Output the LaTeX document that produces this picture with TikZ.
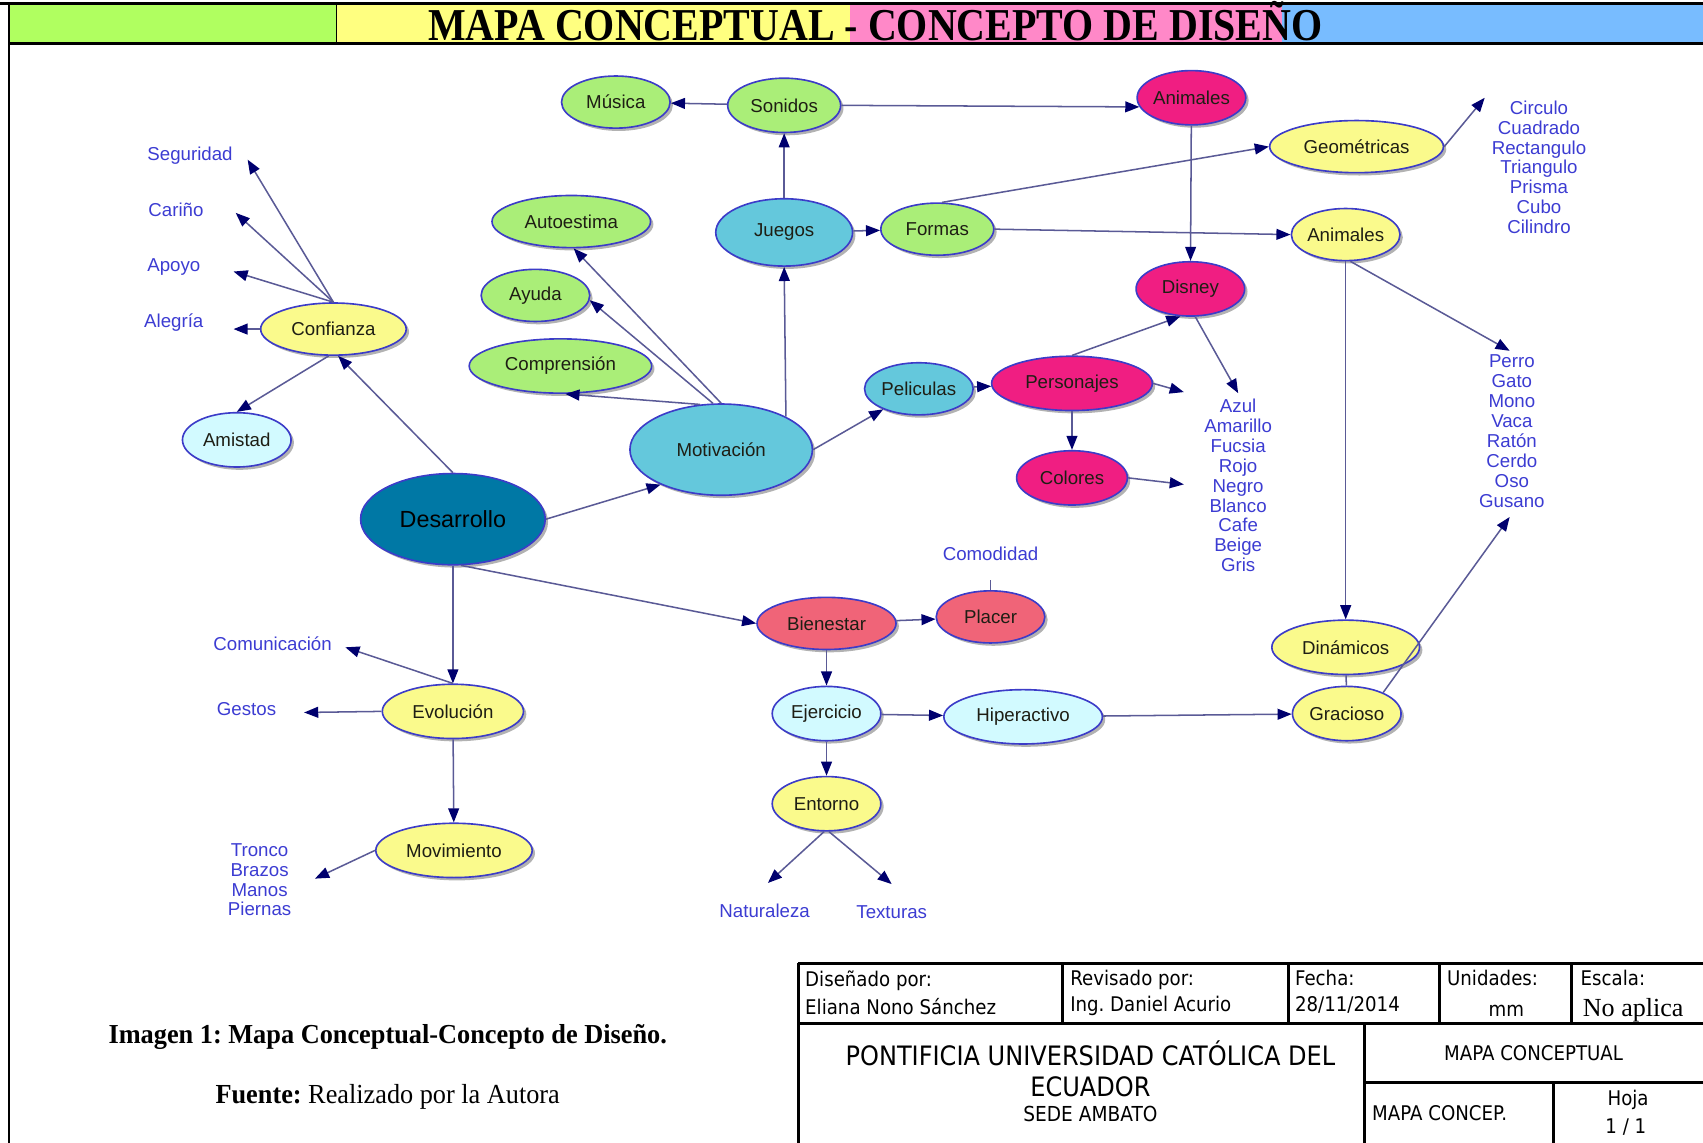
\documentclass[tikz,border=0pt]{standalone}
\usepackage{fontspec}
\usepackage{graphicx}
\usetikzlibrary{shapes.geometric,arrows.meta,shadows}
\newfontfamily\arialf{Liberation Sans}
\newfontfamily\timesf{Liberation Serif}
\newfontfamily\tabf[FakeStretch=0.9]{DejaVu Sans}
\frenchspacing
\definecolor{cgreen}{RGB}{170,238,120}
\definecolor{cyellow}{RGB}{250,250,140}
\definecolor{cblue}{RGB}{100,200,220}
\definecolor{cdark}{RGB}{0,120,165}
\definecolor{cpink}{RGB}{240,30,130}
\definecolor{csalmon}{RGB}{240,100,120}
\definecolor{ccyan}{RGB}{210,250,255}
\definecolor{bord}{RGB}{60,60,200}
\definecolor{ntext}{RGB}{30,30,20}
\definecolor{labc}{RGB}{60,60,210}
\definecolor{edgec}{RGB}{90,90,150}
\definecolor{arrc}{RGB}{0,0,110}
\definecolor{hgreen}{RGB}{176,255,96}
\definecolor{hyellow}{RGB}{255,255,128}
\definecolor{hpink}{RGB}{255,136,200}
\definecolor{hblue}{RGB}{120,188,255}
\begin{document}
\begin{tikzpicture}[x=0.5pt,y=-0.5pt,
  cn/.style={ellipse, draw=bord, line width=0.75pt, inner sep=0pt,
    font=\arialf\fontsize{8.6pt}{10pt}\selectfont, text=ntext,
    drop shadow={shadow xshift=1.3pt, shadow yshift=-1.3pt, fill=black, opacity=0.3}},
  lab/.style={text=labc, font=\arialf\fontsize{8.6pt}{9.15pt}\selectfont, inner sep=0pt, align=center},
  ed/.style={draw=edgec, line width=0.7pt},
  arr/.style={ed, -{Triangle[length=6.5pt,width=5pt,color=arrc]}},
  tl/.style={line width=1.3pt, black},
  tt/.style={font=\tabf\fontsize{9.3pt}{11pt}\selectfont, inner sep=0pt}
]
\useasboundingbox (0,0) rectangle (1568,1052);
% header
\fill[hgreen] (8,5) rectangle (310,39);
\fill[hyellow] (310,5) rectangle (783,39);
\fill[hpink] (783,5) rectangle (1180,39);
\fill[hblue] (1180,5) rectangle (1568,39);
\draw[line width=1.3pt] (0,3) -- (1568,3);
\draw[line width=1pt] (8,40) -- (1568,40);
\draw[line width=0.6pt] (310,4) -- (310,40);
\draw[line width=0.8pt] (8,3) -- (8,1052);
\node[anchor=base, inner sep=0pt] (title) at (806,37)
  {\scalebox{0.876}[1]{\timesf\bfseries\fontsize{21pt}{21pt}\selectfont MAPA CONCEPTUAL - CONCEPTO DE DISEÑO}};

% nodes
\node[cn, fill=cgreen, minimum width=50pt, minimum height=24pt] (mus) at (567,94) {Música};
\node[cn, fill=cgreen, minimum width=52pt, minimum height=25pt] (son) at (722,97) {Sonidos};
\node[cn, fill=cpink, minimum width=50pt, minimum height=25pt] (anp) at (1097,90) {Animales};
\node[cn, fill=cyellow, minimum width=80pt, minimum height=24pt] (geo) at (1249,135) {Geométricas};
\node[cn, fill=cgreen, minimum width=73pt, minimum height=24pt] (aut) at (526,204) {Autoestima};
\node[cn, fill=cblue, minimum width=63pt, minimum height=31pt] (jue) at (722,214) {Juegos};
\node[cn, fill=cgreen, minimum width=52pt, minimum height=24pt] (for) at (863,211) {Formas};
\node[cn, fill=cyellow, minimum width=50pt, minimum height=24pt] (any) at (1239,216) {Animales};
\node[cn, fill=cpink, minimum width=50pt, minimum height=25pt] (dis) at (1096,266) {Disney};
\node[cn, fill=cgreen, minimum width=50pt, minimum height=24pt] (ayu) at (493,272) {Ayuda};
\node[cn, fill=cgreen, minimum width=84pt, minimum height=25pt] (comp) at (516,337) {Comprensión};
\node[cn, fill=cblue, minimum width=50pt, minimum height=24pt] (pel) at (846,358) {Peliculas};
\node[cn, fill=cpink, minimum width=74pt, minimum height=25pt] (per) at (987,353) {Personajes};
\node[cn, fill=cblue, minimum width=84pt, minimum height=42pt] (mot) at (664,414) {Motivación};
\node[cn, fill=cyellow, minimum width=67pt, minimum height=24pt] (conf) at (307,303) {Confianza};
\node[cn, fill=ccyan, minimum width=50pt, minimum height=25pt] (ami) at (218,405) {Amistad};
\node[cn, fill=cpink, minimum width=51pt, minimum height=25pt] (col) at (987,440) {Colores};
\node[cn, fill=cdark, minimum width=85pt, minimum height=42pt, text=black,
      font=\arialf\fontsize{10.75pt}{12pt}\selectfont] (des) at (417,478) {Desarrollo};
\node[cn, fill=csalmon, minimum width=64pt, minimum height=24pt] (bien) at (761,574) {Bienestar};
\node[cn, fill=csalmon, minimum width=50pt, minimum height=24pt] (pla) at (912,568) {Placer};
\node[cn, fill=cyellow, minimum width=68pt, minimum height=25pt] (din) at (1239,596) {Dinámicos};
\node[cn, fill=cyellow, minimum width=65pt, minimum height=25pt] (evo) at (417,655) {Evolución};
\node[cn, fill=ccyan, minimum width=50pt, minimum height=25pt] (eje) at (761,657) {Ejercicio};
\node[cn, fill=ccyan, minimum width=73pt, minimum height=25pt] (hip) at (942,660) {Hiperactivo};
\node[cn, fill=cyellow, minimum width=50pt, minimum height=25pt] (gra) at (1240,657) {Gracioso};
\node[cn, fill=cyellow, minimum width=50pt, minimum height=25pt] (ent) at (761,740) {Entorno};
\node[cn, fill=cyellow, minimum width=72pt, minimum height=25pt] (mov) at (418,783) {Movimiento};

% labels
\node[lab] (seg) at (175,143) {Seguridad};
\node[lab] (car) at (162,193) {Cariño};
\node[lab] (apo) at (160,246) {Apoyo};
\node[lab] (ale) at (160,297) {Alegría};
\node[lab] (circ) at (1417,154) {Circulo\\Cuadrado\\Rectangulo\\Triangulo\\Prisma\\Cubo\\Cilindro};
\node[lab] (azul) at (1140,447) {Azul\\Amarillo\\Fucsia\\Rojo\\Negro\\Blanco\\Cafe\\Beige\\Gris};
\node[lab] (perro) at (1392,397) {Perro\\Gato\\Mono\\Vaca\\Ratón\\Cerdo\\Oso\\Gusano};
\node[lab] (cmd) at (912,510) {Comodidad};
\node[lab] (comu) at (251,593) {Comunicación};
\node[lab] (ges) at (227,653) {Gestos};
\node[lab] (tron) at (239,810) {Tronco\\Brazos\\Manos\\Piernas};
\node[lab] (nat) at (704,839) {Naturaleza};
\node[lab] (tex) at (821,840) {Texturas};

% free ends
\coordinate (geoT) at (1367,90);
\coordinate (perT) at (1390,323);
\coordinate (azT) at (1140,362);
\coordinate (perF) at (1090,361);
\coordinate (colF) at (1090,446);
\coordinate (segT) at (228,147);
\coordinate (carT) at (217,196);
\coordinate (apoT) at (215,250);
\coordinate (aleT) at (215,303);
\coordinate (comT) at (318,596);
\coordinate (gesT) at (280,656);
\coordinate (troT) at (290,809);
\coordinate (natT) at (707,813);
\coordinate (texT) at (821,814);
\coordinate (gusT) at (1390,476);
\coordinate (cmdT) at (912,534);

% connectors
\draw[arr] (son) -- (mus);
\draw[arr] (son.east) -- (anp.190);
\draw[arr] (jue) -- (son);
\draw[arr] (jue) -- (for);
\draw[arr] (for.80) -- (geo.west);
\draw[arr] (for.east) -- (any.west);
\draw[arr] (geo.east) -- (geoT);
\draw[arr] (anp) -- (dis);
\draw[arr] (any) -- (din);
\draw[arr] (any.-80) -- (perT);
\draw[arr] (dis.-80) -- (azT);
\draw[arr] (per.north) -- (dis.250);
\draw[arr] (per.east) -- (perF);
\draw[arr] (per) -- (col);
\draw[arr] (col.east) -- (colF);
\draw[arr] (pel) -- (per);
\draw[arr] (mot.east) -- (pel);
\draw[arr] (mot.27) -- (jue.south);
\draw[arr] (mot.north) -- (aut.-85);
\draw[arr] (mot.100) -- (ayu.-5);
\draw[arr] (mot.115) -- (comp.-80);
\draw[arr] (des.east) -- (mot.210);
\draw[arr] (des.north) -- (conf.-80);
\draw[arr] (des.-80) -- (bien.west);
\draw[arr] (des) -- (evo);
\draw[arr] (conf.north) -- (segT);
\draw[arr] (conf.north) -- (carT);
\draw[arr] (conf.north) -- (apoT);
\draw[arr] (conf.west) -- (aleT);
\draw[arr] (conf.-100) -- (ami.north);
\draw[arr] (evo.north) -- (comT);
\draw[arr] (evo.west) -- (gesT);
\draw[arr] (evo) -- (mov);
\draw[arr] (mov.west) -- (troT);
\draw[arr] (bien) -- (pla);
\draw[arr] (bien) -- (eje);
\draw[ed] (pla.north) -- (cmdT);
\draw[arr] (eje) -- (hip);
\draw[arr] (eje) -- (ent);
\draw[arr] (hip) -- (gra);
\draw[arr] (ent.-95) -- (natT);
\draw[arr] (ent.-85) -- (texT);
\draw[ed] (din) -- (gra);
\draw[arr] (gra.30) -- (gusT);

% captions
\node[anchor=base, inner sep=0pt] (cap1) at (357,961)
  {\resizebox{257pt}{8.8pt}{\timesf\bfseries Imagen 1: Mapa Conceptual-Concepto de Diseño.}};
\node[anchor=base, inner sep=0pt] (cap2) at (357,1016)
  {\resizebox{158.5pt}{8.8pt}{\timesf\textbf{Fuente:} Realizado por la Autora}};

% title block
\draw[tl] (735,887) -- (1568,887);
\draw[tl] (735,942) -- (1568,942);
\draw[tl] (735,887) -- (735,1052);
\draw[tl] (978,887) -- (978,942);
\draw[tl] (1186,887) -- (1186,942);
\draw[tl] (1325,887) -- (1325,942);
\draw[tl] (1447,887) -- (1447,942);
\draw[tl] (1256,942) -- (1256,1052);
\draw[tl] (1256,997) -- (1568,997);
\draw[tl] (1430,997) -- (1430,1052);
\node[tt, anchor=base west] (t1) at (741,908) {Diseñado por:};
\node[tt, anchor=base west] (t2) at (741,934) {Eliana Nono Sánchez};
\node[tt, anchor=base west] (t3) at (985,907) {Revisado por:};
\node[tt, anchor=base west] (t4) at (985,931) {Ing. Daniel Acurio};
\node[tt, anchor=base west] (t5) at (1192,907) {Fecha:};
\node[tt, anchor=base west] (t6) at (1192,931) {28/11/2014};
\node[tt, anchor=base west] (t7) at (1332,907) {Unidades:};
\node[tt, anchor=base] (t8) at (1387,936) {mm};
\node[tt, anchor=base west] (t9) at (1455,907) {Escala:};
\node[anchor=base west, inner sep=0pt, font=\timesf\fontsize{12pt}{14pt}\selectfont] (t10) at (1457,936) {No aplica};
\node[tt, font=\tabf\fontsize{12.3pt}{14pt}\selectfont, anchor=base] (t11) at (1004,981) {PONTIFICIA UNIVERSIDAD CATÓLICA DEL};
\node[tt, font=\tabf\fontsize{12.3pt}{14pt}\selectfont, anchor=base] (t12) at (1004,1010) {ECUADOR};
\node[tt, font=\tabf\fontsize{9.5pt}{11pt}\selectfont, anchor=base] (t13) at (1004,1033) {SEDE AMBATO};
\node[tt, anchor=base] (t14) at (1412,976) {MAPA CONCEPTUAL};
\node[tt, anchor=base west] (t15) at (1263,1032) {MAPA CONCEP.};
\node[tt, anchor=base] (t16) at (1499,1018) {Hoja};
\node[tt, anchor=base] (t17) at (1497,1044) {1 / 1};
\end{tikzpicture}
\end{document}
